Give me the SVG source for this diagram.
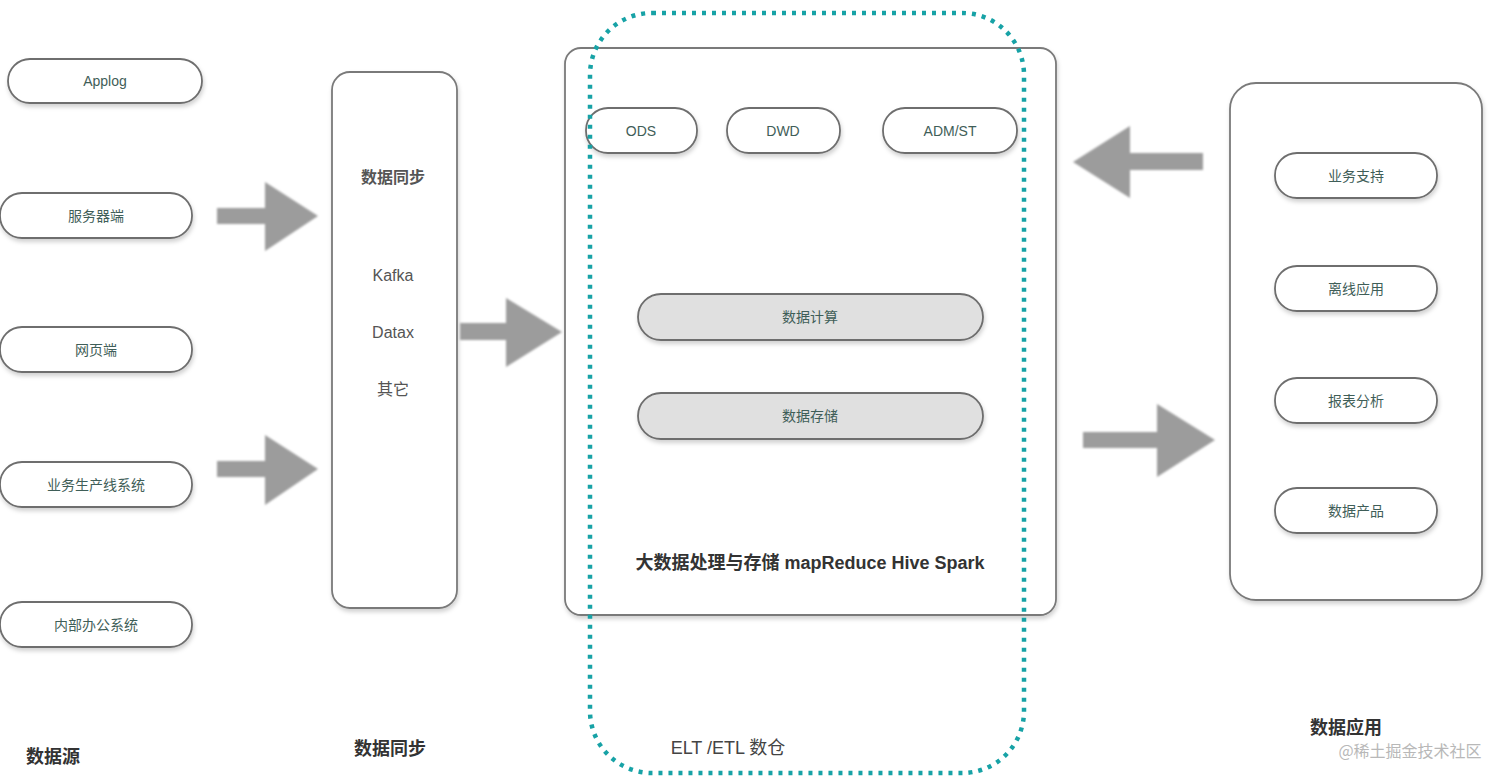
<svg xmlns="http://www.w3.org/2000/svg" width="1512" height="777" viewBox="0 0 1512 777">
<defs>
<filter id="sh" x="-10%" y="-20%" width="120%" height="150%">
<feDropShadow dx="1" dy="3" stdDeviation="2" flood-color="#000" flood-opacity="0.18"/>
</filter>
<filter id="soft" x="-10%" y="-10%" width="120%" height="120%">
<feGaussianBlur stdDeviation="1.2"/>
</filter>
<style>
.pill{fill:#fff;stroke:#6e6e6e;stroke-width:1.8;filter:url(#sh)}
.gpill{fill:#e0e0e0;stroke:#6e6e6e;stroke-width:1.8;filter:url(#sh)}
.box{fill:#fff;stroke:#7a7a7a;stroke-width:1.8;filter:url(#sh)}
.t{font-family:"Liberation Sans","Noto Sans CJK SC",sans-serif;font-size:14px;fill:#3f5e58;text-anchor:middle;dominant-baseline:central}
.tg{font-family:"Liberation Sans","Noto Sans CJK SC",sans-serif;font-size:16px;fill:#555;text-anchor:middle;dominant-baseline:central}
.lbl{font-family:"Liberation Sans","Noto Sans CJK SC",sans-serif;font-size:18px;font-weight:bold;fill:#333;text-anchor:middle;dominant-baseline:central}
.arr{fill:#9c9c9c;filter:url(#soft)}
</style>
</defs>
<rect width="1512" height="777" fill="#fff"/>

<g id="src-applog"><rect class="pill" x="8" y="59" width="194" height="44" rx="22"/><text class="t" x="105" y="81">Applog</text></g>
<g id="src-server"><rect class="pill" x="0" y="193" width="192" height="45" rx="22"/><text class="t" x="96" y="216">服务器端</text></g>
<g id="src-web"><rect class="pill" x="0" y="327" width="192" height="45" rx="22"/><text class="t" x="96" y="350">网页端</text></g>
<g id="src-biz"><rect class="pill" x="0" y="462" width="192" height="45" rx="22"/><text class="t" x="96" y="485">业务生产线系统</text></g>
<g id="src-office"><rect class="pill" x="0" y="602" width="192" height="45" rx="22"/><text class="t" x="96" y="625">内部办公系统</text></g>
<g id="lbl-src"><text class="lbl" x="53" y="757">数据源</text></g>

<g id="sync">
<rect class="box" x="332" y="72" width="125" height="536" rx="18"/>
<text class="tg" x="393" y="177" style="font-weight:bold">数据同步</text>
<text class="tg" x="393" y="275">Kafka</text>
<text class="tg" x="393" y="332">Datax</text>
<text class="tg" x="393" y="389">其它</text>
</g>
<g id="lbl-sync"><text class="lbl" x="390" y="749">数据同步</text></g>

<g id="etl">
<rect class="box" x="565" y="48" width="491" height="567" rx="16"/>
<text class="lbl" x="810" y="563">大数据处理与存储 mapReduce Hive Spark</text>
</g>
<g id="ods"><rect class="pill" x="586" y="108" width="111" height="45" rx="22"/><text class="t" x="641" y="131">ODS</text></g>
<g id="dwd"><rect class="pill" x="727" y="108" width="113" height="45" rx="22"/><text class="t" x="783" y="131">DWD</text></g>
<g id="adm"><rect class="pill" x="883" y="108" width="134" height="45" rx="22"/><text class="t" x="950" y="131">ADM/ST</text></g>
<g id="calc"><rect class="gpill" x="638" y="294" width="345" height="46" rx="23"/><text class="t" x="810" y="317">数据计算</text></g>
<g id="store"><rect class="gpill" x="638" y="393" width="345" height="46" rx="23"/><text class="t" x="810" y="416">数据存储</text></g>

<g id="dw-boundary">
<rect x="590" y="13" width="434" height="760" rx="62" fill="none" stroke="#17a2a6" stroke-width="4.5" stroke-dasharray="4 6"/>
<text class="lbl" x="728" y="748" style="font-weight:normal;fill:#444">ELT /ETL 数仓</text>
</g>

<g id="app">
<rect class="box" x="1230" y="83" width="252" height="517" rx="26"/>
</g>
<g id="app-support"><rect class="pill" x="1275" y="153" width="162" height="45" rx="22"/><text class="t" x="1356" y="176">业务支持</text></g>
<g id="app-offline"><rect class="pill" x="1275" y="266" width="162" height="45" rx="22"/><text class="t" x="1356" y="289">离线应用</text></g>
<g id="app-report"><rect class="pill" x="1275" y="378" width="162" height="45" rx="22"/><text class="t" x="1356" y="401">报表分析</text></g>
<g id="app-product"><rect class="pill" x="1275" y="488" width="162" height="45" rx="22"/><text class="t" x="1356" y="511">数据产品</text></g>
<g id="lbl-app"><text class="lbl" x="1346" y="728">数据应用</text></g>
<text x="1410" y="750" font-family="'Noto Sans CJK SC',sans-serif" font-size="16" fill="#b8b8b8" text-anchor="middle" dominant-baseline="central">@稀土掘金技术社区</text>

<g id="connectors">
<path class="arr" d="M217,208 L265,208 L265,182 L318,216 L265,251 L265,224 L217,224 Z"/>
<path class="arr" d="M217,461 L265,461 L265,435 L318,469 L265,505 L265,477 L217,477 Z"/>
<path class="arr" d="M460,323 L506,323 L506,298 L562,332 L506,367 L506,340 L460,340 Z"/>
<path class="arr" d="M1203,153 L1130,153 L1130,126 L1073,162 L1130,198 L1130,170 L1203,170 Z"/>
<path class="arr" d="M1083,432 L1157,432 L1157,404 L1215,440 L1157,477 L1157,448 L1083,448 Z"/>
</g>
</svg>
